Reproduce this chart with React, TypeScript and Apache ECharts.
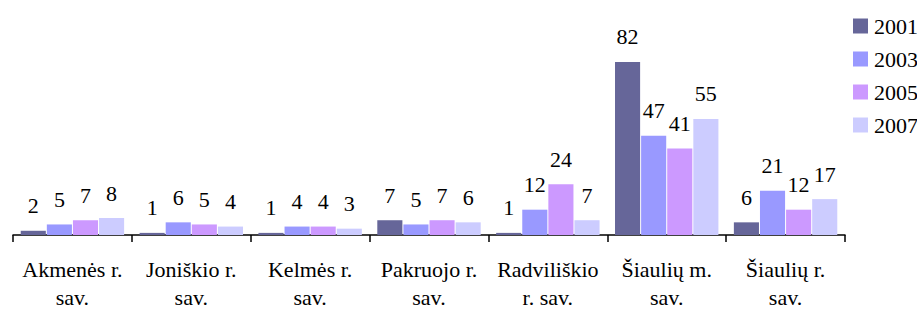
import React, { useEffect, useRef } from "react";
import * as echarts from "echarts";

const categories = [
  "Akmenės r.\nsav.",
  "Joniškio r.\nsav.",
  "Kelmės r.\nsav.",
  "Pakruojo r.\nsav.",
  "Radviliškio\nr. sav.",
  "Šiaulių m.\nsav.",
  "Šiaulių r.\nsav.",
];
const seriesNames = ["2001", "2003", "2005", "2007"];
const values2001 = [2, 1, 1, 7, 1, 82, 6];
const values2003 = [5, 6, 4, 5, 12, 47, 21];
const values2005 = [7, 5, 4, 7, 24, 41, 12];
const values2007 = [8, 4, 3, 6, 7, 55, 17];
const colors = ["#666699", "#9999FF", "#CC99FF", "#CCCCFF"];

const FONT = "'Liberation Serif', 'Times New Roman', serif";

export default function App() {
  const ref = useRef<HTMLDivElement>(null);
  useEffect(() => {
    if (!ref.current) return;
    const chart = echarts.init(ref.current, null, { renderer: "svg" });
    const all = [values2001, values2003, values2005, values2007];
    chart.setOption({
      animation: false,
      textStyle: { fontFamily: FONT },
      legend: {
        orient: "vertical",
        left: 848,
        top: 10,
        itemWidth: 15,
        itemHeight: 15,
        itemGap: 11,
        icon: "rect",
        data: seriesNames,
        textStyle: { fontFamily: FONT, fontSize: 22, color: "#000", padding: [0, 0, 0, 1] },
      },
      grid: { left: 13, right: 72, top: 24, bottom: 69 },
      xAxis: {
        type: "category",
        data: categories,
        axisLine: { lineStyle: { color: "#000", width: 1.5 } },
        axisTick: { show: true, length: 7, lineStyle: { color: "#000", width: 1.5 } },
        axisLabel: {
          fontFamily: FONT,
          fontSize: 22,
          color: "#000",
          margin: 20,
          lineHeight: 28,
          interval: 0,
        },
      },
      yAxis: {
        type: "value",
        min: 0,
        max: 100,
        show: false,
        splitLine: { show: false },
      },
      series: seriesNames.map((name, i) => ({
        name,
        type: "bar",
        data: all[i],
        itemStyle: { color: colors[i] },
        barCategoryGap: "13%",
        barGap: "4%",
        label: {
          show: true,
          position: "top",
          distance: 14,
          fontFamily: FONT,
          fontSize: 22,
          color: "#000",
        },
      })),
    });
    return () => chart.dispose();
  }, []);
  return (
    <div
      ref={ref}
      style={{ position: "absolute", left: 0, top: 0, width: 917, height: 311 }}
    />
  );
}
